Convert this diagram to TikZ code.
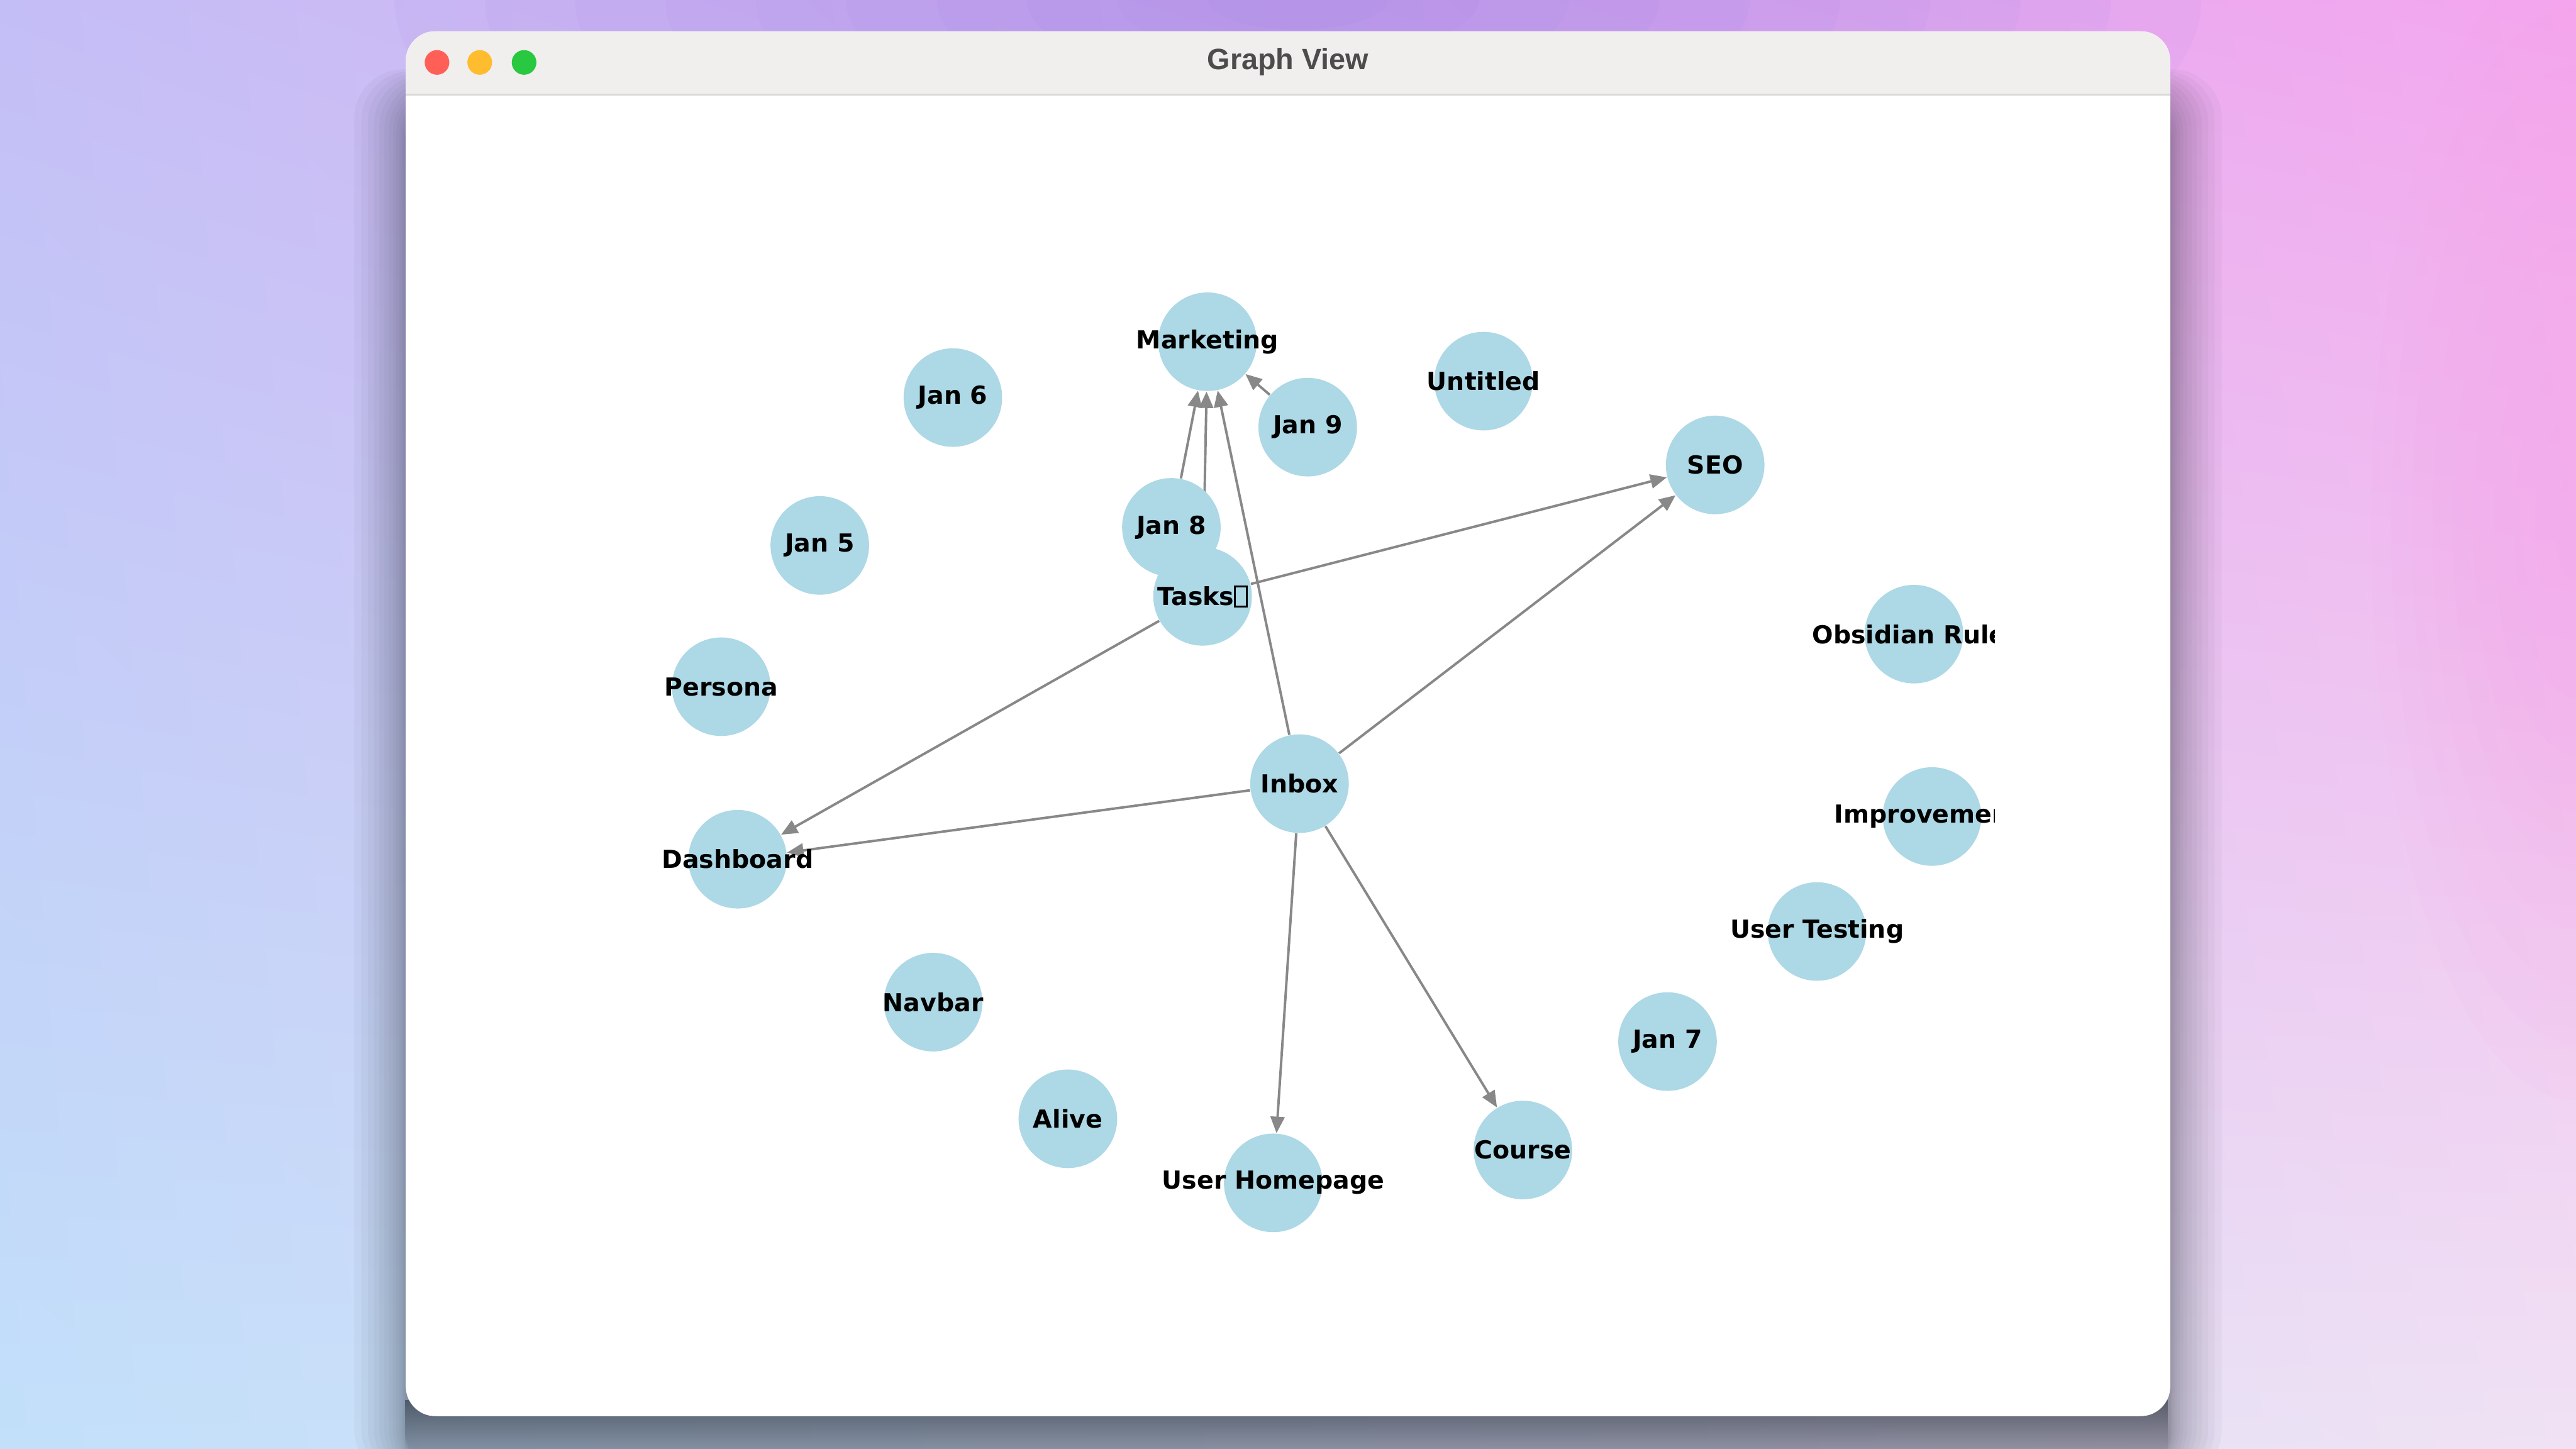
\documentclass[tikz,border=0pt]{standalone}
\usepackage{fontspec}
\setmainfont{DejaVu Sans}
\newfontfamily\titlefont{Liberation Sans}
\usetikzlibrary{arrows.meta,shadings,fadings}
\pgfdeclarelayer{bg}
\pgfdeclarelayer{edges}
\pgfdeclarelayer{labels}
\pgfsetlayers{bg,edges,main,labels}
\definecolor{nodeblue}{HTML}{ADD8E6}
\definecolor{edgegray}{HTML}{888888}
\definecolor{bgUL}{HTML}{C4BEF6}
\definecolor{bgUR}{HTML}{F4A6EE}
\definecolor{bgLL}{HTML}{C2E0FA}
\definecolor{bgLR}{HTML}{F0E2F4}
\definecolor{glowpurple}{HTML}{9A80E4}
\definecolor{glowpink}{HTML}{F79CEC}
\definecolor{titlegray}{HTML}{F0EFEE}
\definecolor{sepgray}{HTML}{D9D9D9}
\definecolor{titletext}{HTML}{4C4C4C}
\definecolor{tlred}{HTML}{FF5F57}
\definecolor{tlyellow}{HTML}{FEBC2E}
\definecolor{tlgreen}{HTML}{28C840}
\definecolor{shadowcol}{HTML}{1E2630}
\newcommand\tofubox{{\setlength{\fboxsep}{0pt}\setlength{\fboxrule}{0.07em}\fbox{\rule{0pt}{0.74em}\hspace{0.4em}}}}
\begin{document}
\begin{tikzpicture}[x={(0.02cm,0)}, y={(0,-0.02cm)},
  gnode/.style={circle, fill=nodeblue, minimum size=1.2cm, inner sep=0pt, draw=none},
  glabel/.style={font=\fontsize{8.6}{10}\selectfont\bfseries, text=black, inner sep=0pt},
  garrow/.style={draw=edgegray, line width=0.85pt, -{Triangle[length=0.2cm, width=0.17cm]}},
  light/.style={circle, minimum size=0.3cm, inner sep=0pt}]
\useasboundingbox (0,0) rectangle (1568,882);

\begin{pgfonlayer}{bg}
  \shade[upper left=bgUL, upper right=bgUR, lower left=bgLL, lower right=bgLR] (0,0) rectangle (1568,882);
  \begin{scope}
    \clip (0,0) rectangle (1568,882);
    \foreach \r in {1,...,10} {
      \fill[glowpurple, opacity=0.07] (790,0) ellipse ({\r*1.1cm} and {\r*0.36cm});
      \fill[glowpink, opacity=0.045] (1568,320) ellipse ({\r*0.25cm} and {\r*0.7cm});
    }
    % window shadow (sides and bottom), denser near the window edge
    \foreach \i in {1,...,14} {
      \fill[shadowcol, opacity=0.035, rounded corners=0.6cm] ({247-\i*\i*0.16},{19+40-\i*1.2}) rectangle ({1321+\i*\i*0.16},{900});
    }
    \fill[shadowcol, opacity=0.5, path fading=south] (247,852) rectangle (1321,882);
  \end{scope}
  % window
  \fill[white, rounded corners=0.36cm] (247,19) rectangle (1321,862);
  \begin{scope}
    \clip[rounded corners=0.36cm] (247,19) rectangle (1321,862);
    \fill[titlegray] (247,19) rectangle (1321,57);
    \draw[sepgray, line width=0.6pt] (247,57.5) -- (1321,57.5);
  \end{scope}
\end{pgfonlayer}

\node[light, fill=tlred] (close) at (266,38) {};
\node[light, fill=tlyellow] (minimize) at (292,38) {};
\node[light, fill=tlgreen] (zoom) at (319,38) {};
\node[font=\titlefont\bfseries\fontsize{10.2}{12}\selectfont, text=titletext, inner sep=0pt] (title) at (784,37.5) {Graph View};

% graph nodes
\node[gnode] (marketing) at (735,208) {};
\node[gnode] (jan6) at (580,242) {};
\node[gnode] (untitled) at (903,232) {};
\node[gnode] (jan9) at (796,260) {};
\node[gnode] (seo) at (1044,283) {};
\node[gnode] (jan5) at (499,332) {};
\node[gnode] (jan8) at (713,321) {};
\node[gnode] (tasks) at (732,363) {};
\node[gnode] (obsidian) at (1165,386) {};
\node[gnode] (persona) at (439,418) {};
\node[gnode] (inbox) at (791,477) {};
\node[gnode] (improvement) at (1176,497) {};
\node[gnode] (dashboard) at (449,523) {};
\node[gnode] (usertesting) at (1106,567) {};
\node[gnode] (navbar) at (568,610) {};
\node[gnode] (jan7) at (1015,634) {};
\node[gnode] (alive) at (650,681) {};
\node[gnode] (course) at (927,700) {};
\node[gnode] (userhome) at (775,720) {};

\begin{pgfonlayer}{edges}
  \draw[garrow] (jan8) -- (marketing);
  \draw[garrow] (tasks) -- (marketing);
  \draw[garrow] (inbox) -- (marketing);
  \draw[garrow] (jan9) -- (marketing);
  \draw[garrow] (tasks) -- (seo);
  \draw[garrow] (inbox) -- (seo);
  \draw[garrow] (tasks) -- (dashboard);
  \draw[garrow] (inbox) -- (dashboard);
  \draw[garrow] (inbox) -- (userhome);
  \draw[garrow] (inbox) -- (course);
\end{pgfonlayer}

\begin{pgfonlayer}{labels}
  \node[glabel] (marketing-l) at (marketing) {Marketing};
  \node[glabel] (jan6-l) at (jan6) {Jan 6};
  \node[glabel] (untitled-l) at (untitled) {Untitled};
  \node[glabel] (jan9-l) at (jan9) {Jan 9};
  \node[glabel] (seo-l) at (seo) {SEO};
  \node[glabel] (jan5-l) at (jan5) {Jan 5};
  \node[glabel] (jan8-l) at (jan8) {Jan 8};
  \node[glabel] (tasks-l) at (tasks) {Tasks\tofubox};
  \node[glabel] (persona-l) at (persona) {Persona};
  \node[glabel] (inbox-l) at (inbox) {Inbox};
  \node[glabel] (dashboard-l) at (dashboard) {Dashboard};
  \node[glabel] (usertesting-l) at (usertesting) {User Testing};
  \node[glabel] (navbar-l) at (navbar) {Navbar};
  \node[glabel] (jan7-l) at (jan7) {Jan 7};
  \node[glabel] (alive-l) at (alive) {Alive};
  \node[glabel] (course-l) at (course) {Course};
  \node[glabel] (userhome-l) at (userhome) {User Homepage};
  \begin{scope}
    \clip (247,57) rectangle (1214,862);
    \node[glabel] (obsidian-l) at ([xshift=-0.06cm]obsidian) {Obsidian Rule};
    \node[glabel] (improvement-l) at ([xshift=-0.05cm]improvement) {Improvement};
  \end{scope}
\end{pgfonlayer}
\end{tikzpicture}
\end{document}
